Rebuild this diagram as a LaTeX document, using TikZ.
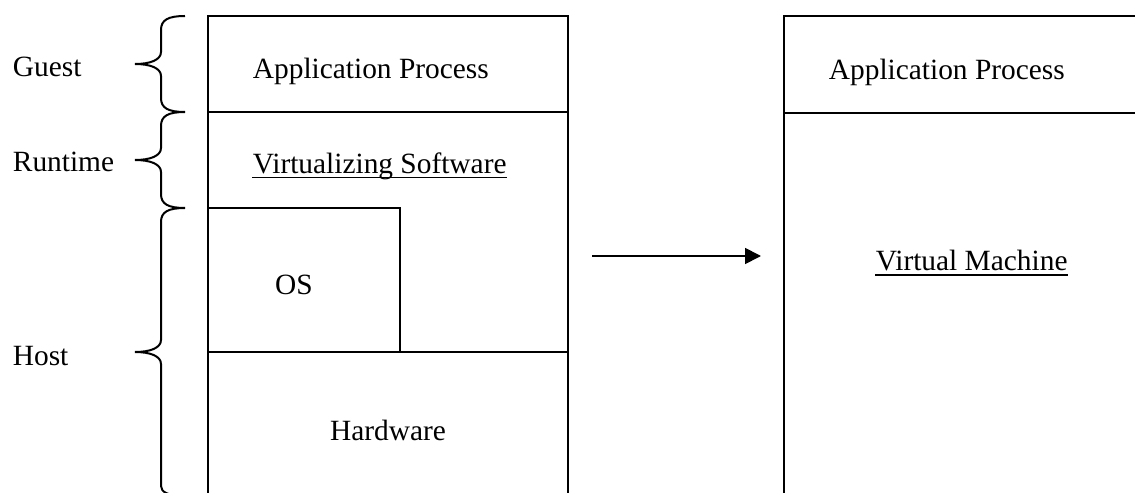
\documentclass[tikz,border=0pt]{standalone}
\usepackage{fontspec}
\setmainfont{Liberation Serif}
\usetikzlibrary{arrows.meta}
\begin{document}
\begin{tikzpicture}[x=1bp,y=-1bp,line width=1.8bp,
  lbl/.style={inner sep=0pt,anchor=base west,font=\fontsize{29.5}{34}\selectfont},
  clbl/.style={inner sep=0pt,anchor=base,font=\fontsize{29.5}{34}\selectfont},
  bracepath/.style={line width=2bp},
  uline/.style={line width=1.4bp}]
\useasboundingbox (0,0) rectangle (1135,493);
% left stack
\draw (208,496) -- (208,16) -- (568,16) -- (568,496);
\draw (208,112) -- (568,112);
\draw (208,208) -- (400,208) -- (400,352);
\draw (208,352) -- (568,352);
% right stack
\draw (784,496) -- (784,16) -- (1140,16);
\draw (784,113) -- (1140,113);
% braces
\draw[bracepath] (185,16) .. controls (168,16) and (161,20) .. (161,30) -- (161,52)
  .. controls (161,60) and (150,64) .. (135,64)
  .. controls (150,64) and (161,68) .. (161,76) -- (161,98)
  .. controls (161,108) and (168,112) .. (185,112);
\draw[bracepath] (185,112) .. controls (168,112) and (161,116) .. (161,126) -- (161,148)
  .. controls (161,156) and (150,160) .. (135,160)
  .. controls (150,160) and (161,164) .. (161,172) -- (161,194)
  .. controls (161,204) and (168,208) .. (185,208);
\draw[bracepath] (185,208) .. controls (168,208) and (161,212) .. (161,222) -- (161,340)
  .. controls (161,348) and (150,352) .. (135,352)
  .. controls (150,352) and (161,356) .. (161,364) -- (161,486)
  .. controls (161,492) and (168,496) .. (185,496);
% side labels
\node[lbl] (guest) at (12,77) {Guest};
\node[lbl] (runtime) at (12,172) {Runtime};
\node[lbl] (host) at (12,366) {Host};
% left texts
\node[lbl] (app1) at (252,79) {Application Process};
\node[lbl] (virt) at (252,174) {Virtualizing Software};
\draw[uline] ([yshift=-3.5bp]virt.base west) -- ([yshift=-3.5bp]virt.base east);
\node[clbl] (os) at (294,295) {OS};
\node[clbl] (hw) at (388,440) {Hardware};
% right texts
\node[lbl] (app2) at (828,80) {Application Process};
\node[lbl] (vm) at (875,271) {Virtual Machine};
\draw[uline] ([yshift=-4bp]vm.base west) -- ([yshift=-4bp]vm.base east);
% arrow
\coordinate (as) at (592,256);
\coordinate (ae) at (761,256);
\draw[-{Triangle[length=16bp,width=16bp]}] (as) -- (ae);
\end{tikzpicture}
\end{document}
